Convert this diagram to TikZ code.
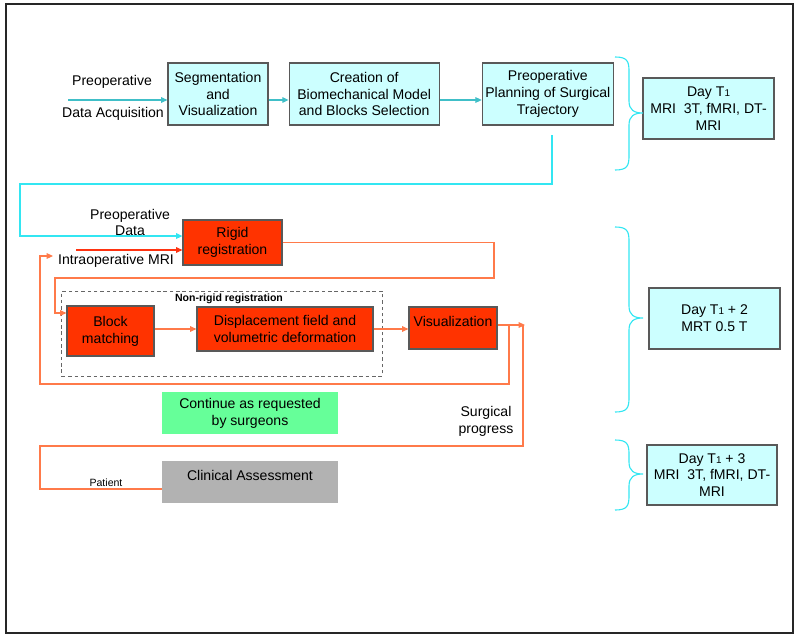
\documentclass[tikz,border=0pt]{standalone}
\usepackage{fontspec}
\setmainfont{Liberation Sans}
\usetikzlibrary{arrows.meta}
\usetikzlibrary{positioning}

\definecolor{boxcyan}{HTML}{CCFFFF}
\definecolor{boxred}{HTML}{FF3300}
\definecolor{boxgreen}{HTML}{66FF99}
\definecolor{boxgray}{HTML}{B2B2B2}
\definecolor{linecyan}{HTML}{33E6F2}
\definecolor{lineteal}{HTML}{40BFC8}
\definecolor{lineorange}{HTML}{FF7A4A}
\definecolor{linered}{HTML}{FF3311}

\tikzset{
  boxbase/.style={rectangle,align=center,inner xsep=1pt,font=\fontsize{10}{12}\selectfont},
  cyanbox/.style={boxbase,draw=black!65,fill=boxcyan,line width=0.8pt},
  redbox/.style={boxbase,draw=black!65,fill=boxred,line width=0.8pt},
  greenbox/.style={boxbase,fill=boxgreen},
  graybox/.style={boxbase,fill=boxgray},
  nrframe/.style={draw=black!60,dash pattern=on 2.5pt off 2pt,line width=0.7pt,inner sep=0pt},
  lbl/.style={font=\fontsize{10}{12}\selectfont,align=center,inner sep=0pt},
  smalltip/.style={-{Triangle[length=4.5pt,width=4pt]}},
  tealarrow/.style={lineteal,line width=0.8pt,smalltip},
  cyanline/.style={linecyan,line width=0.8pt,smalltip},
  redarrow/.style={linered,line width=0.8pt,smalltip},
  orline/.style={lineorange,line width=0.8pt},
  orarrow/.style={orline,smalltip},
  dayline/.style={linecyan,line width=0.8pt}
}

\newcommand{\dayspan}[3]{%
\draw[dayline] (615,#1) .. controls (627,#1) and (629,#1+4) .. (629,#1+14) -- (629,#2-12)
  .. controls (629,#2-3) and (634,#2) .. (643,#2) .. controls (634,#2) and (629,#2+3) .. (629,#2+12)
  -- (629,#3-14) .. controls (629,#3-4) and (627,#3) .. (615,#3);}

\newcommand{\Tone}{T{\fontsize{7}{8}\selectfont 1}}

\begin{document}
\begin{tikzpicture}[x=0.025cm,y=-0.025cm]
\useasboundingbox (0,0) rectangle (800,638);
\draw[black!85,line width=1.2pt] (6,4) rectangle (793,633);

\node[cyanbox,minimum width=2.5cm,minimum height=1.55cm] (seg) at (218,94) {Segmentation\\and\\Visualization};
\node[cyanbox,minimum width=3.75cm,minimum height=1.55cm,right=0.5cm of seg] (bio) {Creation of\\Biomechanical Model\\and Blocks Selection};
\node[cyanbox,minimum width=3.275cm,minimum height=1.55cm,right=1.05cm of bio] (plan) {Preoperative\\Planning of Surgical\\Trajectory};
\node[cyanbox,minimum width=3.275cm,minimum height=1.525cm] (dayA) at (708.5,108.5) {Day \Tone\\MRI\ \ 3T, fMRI, DT-\\MRI};

\node[redbox,minimum width=2.475cm,minimum height=1.125cm] (rigid) at (232.5,242.5) {Rigid\\registration};
\node[nrframe,minimum width=8cm,minimum height=2.125cm] (nonrigid) at (222,333.5) {};
\node[redbox,minimum width=2.175cm,minimum height=1.25cm] (block) at (110.5,331) {Block\\matching};
\node[redbox,minimum width=4.4cm,minimum height=1.1cm] (disp) at (285,329) {Displacement field and\\volumetric deformation};
\node[redbox,minimum width=2.2cm,minimum height=1.05cm,text depth=10pt] (vis) at (453,328) {Visualization};
\node[cyanbox,minimum width=3.275cm,minimum height=1.525cm] (dayB) at (714.5,318.5) {Day \Tone\ + 2\\MRT 0.5 T};

\node[greenbox,minimum width=4.4cm,minimum height=1.05cm] (cont) at (250,413) {Continue as requested\\by surgeons};
\node[graybox,minimum width=4.4cm,minimum height=1.05cm,text depth=10pt] (clin) at (250,482) {Clinical Assessment};
\node[cyanbox,minimum width=3.25cm,minimum height=1.5cm] (dayC) at (712,475) {Day \Tone\ + 3\\MRI\ \ 3T, fMRI, DT-\\MRI};

\node[lbl] (prelbl) at (112,82) {Preoperative};
\node[lbl] (acqlbl) at (113,114) {Data Acquisition};
\node[lbl] (predatalbl) at (130,222.5) {Preoperative\\Data};
\node[lbl] (mrilbl) at (116,261) {Intraoperative MRI};
\node[lbl,font=\fontsize{7.5}{9}\selectfont\bfseries] (nrlbl) at (229,298.5) {Non-rigid registration};
\node[lbl] (surglbl) at (486,421.5) {Surgical\\progress};
\node[lbl,font=\fontsize{7.5}{9}\selectfont] (patlbl) at (106,483) {Patient};

\coordinate (acq) at (68,100);
\draw[tealarrow] (acq) -- (acq -| seg.west);
\draw[tealarrow] (seg.east |- acq) -- (bio.west |- acq);
\draw[tealarrow] (bio.east |- acq) -- (plan.west |- acq);

\coordinate (planout) at (552,135);
\coordinate (retA) at (20,184);
\draw[cyanline] (planout) |- (retA) |- ([yshift=4.6pt]rigid.west);

\coordinate (mri) at (76,250);
\draw[redarrow] (mri) -- (mri -| rigid.west);

\coordinate (loopA) at (494,278);
\coordinate (loopB) at (55,278);
\draw[orarrow] (rigid.east) -| (loopA) -- (loopB) |- ([yshift=12.8pt]block.west);
\draw[orarrow] (block.east |- disp.west) -- (disp.west);
\draw[orarrow] (disp.east) -- (disp.east -| vis.west);

\coordinate (visout) at (525,325);
\draw[orarrow] (vis.east |- visout) -- (visout);
\coordinate (backA) at (509,325);
\coordinate (backB) at (40,384);
\coordinate (mriin) at (53,256);
\draw[orarrow] (backA) |- (backB) |- (mriin);
\coordinate (progA) at (523,325);
\coordinate (progB) at (40,446);
\draw[orline] (progA) |- (progB) |- ([yshift=-5pt]clin.west);

\dayspan{57}{113}{170}
\dayspan{227}{318}{412}
\dayspan{440}{474}{510}

\end{tikzpicture}
\end{document}
